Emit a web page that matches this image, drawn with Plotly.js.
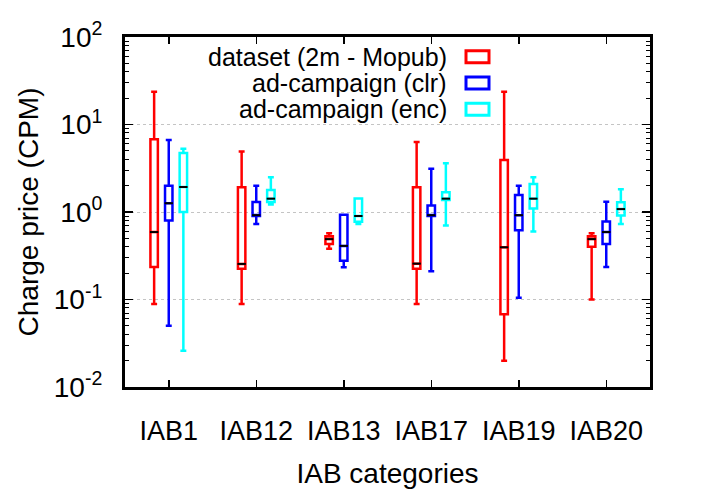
<!DOCTYPE html>
<html>
<head>
<meta charset="utf-8">
<script src="https://cdn.plot.ly/plotly-3.0.1.min.js"></script>
<style>
  html, body { margin: 0; padding: 0; background: #fff; }
  #plot { width: 706px; height: 494px; }
</style>
</head>
<body>
<div id="plot"></div>
<script>
var categories = ['IAB1', 'IAB12', 'IAB13', 'IAB17', 'IAB19', 'IAB20'];

// dataset (2m - Mopub)
var mopubLow = [0.089, 0.089, 0.38, 0.089, 0.02, 0.10];
var mopubQ1 = [0.235, 0.225, 0.43, 0.225, 0.068, 0.40];
var mopubMed = [0.59, 0.255, 0.49, 0.257, 0.395, 0.49];
var mopubQ3 = [6.8, 1.92, 0.53, 1.92, 3.93, 0.53];
var mopubHigh = [23.7, 4.9, 0.57, 6.3, 23.7, 0.57];

// ad-campaign (clr)
var clrLow = [0.05, 0.73, 0.233, 0.21, 0.105, 0.235];
var clrQ1 = [0.80, 0.90, 0.278, 0.90, 0.62, 0.43];
var clrMed = [1.26, 0.92, 0.41, 0.92, 0.92, 0.59];
var clrQ3 = [2.0, 1.30, 0.93, 1.19, 1.56, 0.78];
var clrHigh = [6.65, 2.0, 0.93, 3.12, 2.0, 1.31];

// ad-campaign (enc)
var encLow = [0.026, 1.22, 0.73, 0.70, 0.60, 0.73];
var encQ1 = [1.0, 1.30, 0.775, 1.37, 1.10, 0.91];
var encMed = [1.93, 1.42, 0.90, 1.42, 1.42, 1.08];
var encQ3 = [4.72, 1.78, 1.43, 1.68, 2.09, 1.29];
var encHigh = [5.3, 2.49, 1.43, 3.6, 2.49, 1.82];

var seriesNames = ['dataset (2m - Mopub)', 'ad-campaign (clr)', 'ad-campaign (enc)'];
var seriesColors = ['#ff0000', '#0000ff', '#00ffff'];

var yTickVals = [0.01, 0.1, 1, 10, 100];
var yTickText = ['10<sup>-2</sup>', '10<sup>-1</sup>', '10<sup>0</sup>', '10<sup>1</sup>', '10<sup>2</sup>'];

var stats = [
  [mopubLow, mopubQ1, mopubMed, mopubQ3, mopubHigh],
  [clrLow, clrQ1, clrMed, clrQ3, clrHigh],
  [encLow, encQ1, encMed, encQ3, encHigh]
];

var basePos = categories.map(function (c, i) { return i + 1; });
var offsets = [-0.167, 0, 0.167];
var data = [];

stats.forEach(function (s, k) {
  var xs = basePos.map(function (p) { return p + offsets[k]; });
  data.push({
    type: 'box',
    name: seriesNames[k],
    x: xs,
    lowerfence: s[0],
    q1: s[1],
    median: s[2],
    q3: s[3],
    upperfence: s[4],
    width: 0.085,
    whiskerwidth: 0.8,
    boxpoints: false,
    fillcolor: 'rgba(0,0,0,0)',
    line: { color: seriesColors[k], width: 2.5 },
    hoverinfo: 'skip',
    showlegend: false
  });
});

// black median marks
stats.forEach(function (s, k) {
  data.push({
    type: 'scatter',
    mode: 'markers',
    x: basePos.map(function (p) { return p + offsets[k]; }),
    y: s[2],
    marker: { symbol: 'line-ew', size: 6, line: { color: '#000', width: 2 } },
    hoverinfo: 'skip',
    showlegend: false
  });
});

var font = { family: '"Liberation Sans", Arial, sans-serif', size: 26, color: '#000' };

var annotations = seriesNames.map(function (n, k) {
  return {
    xref: 'paper', yref: 'paper',
    x: (449 - 125) / 525, y: 1 - (k * 26.3 + 19.7) / 350,
    xanchor: 'right', yanchor: 'middle',
    text: n, showarrow: false,
    font: { family: font.family, size: 25, color: '#000' }
  };
});

var shapes = seriesColors.map(function (c, k) {
  var cy = 1 - (k * 26.3 + 19.7) / 350;
  return {
    type: 'rect', xref: 'paper', yref: 'paper',
    x0: (466 - 125) / 525, x1: (489 - 125) / 525,
    y0: cy - 6 / 350, y1: cy + 6 / 350,
    line: { color: c, width: 3 }, fillcolor: 'rgba(0,0,0,0)'
  };
});

var layout = {
  width: 706,
  height: 494,
  margin: { l: 125, r: 56, t: 37, b: 107 },
  paper_bgcolor: '#fff',
  plot_bgcolor: '#fff',
  font: font,
  showlegend: false,
  boxmode: 'overlay',
  xaxis: {
    range: [0.5, 6.5],
    tickvals: basePos,
    ticktext: categories,
    ticks: 'inside',
    ticklen: 7,
    tickwidth: 1.5,
    tickcolor: '#000',
    showline: true,
    linewidth: 3,
    linecolor: '#000',
    mirror: 'ticks',
    showgrid: false,
    zeroline: false,
    ticklabelstandoff: 18,
    tickfont: { size: 27 },
    title: { text: 'IAB categories', font: { size: 28 }, standoff: 18 }
  },
  yaxis: {
    type: 'log',
    range: [-2, 2],
    tickvals: yTickVals,
    ticktext: yTickText,
    ticks: 'inside',
    ticklen: 8,
    tickwidth: 1.5,
    tickcolor: '#000',
    showline: true,
    linewidth: 3,
    linecolor: '#000',
    mirror: 'ticks',
    showgrid: true,
    gridcolor: '#c4c4c4',
    griddash: 'dot',
    gridwidth: 1,
    zeroline: false,
    ticklabelstandoff: 14,
    tickfont: { size: 28 },
    minor: { ticks: 'inside', ticklen: 4, tickwidth: 1, tickcolor: '#000', dtick: 'D1', showgrid: false },
    title: { text: 'Charge price (CPM)', font: { size: 28 }, standoff: 8 }
  },
  annotations: annotations,
  shapes: shapes
};

Plotly.newPlot('plot', data, layout, { displayModeBar: false, staticPlot: true });
</script>
</body>
</html>
